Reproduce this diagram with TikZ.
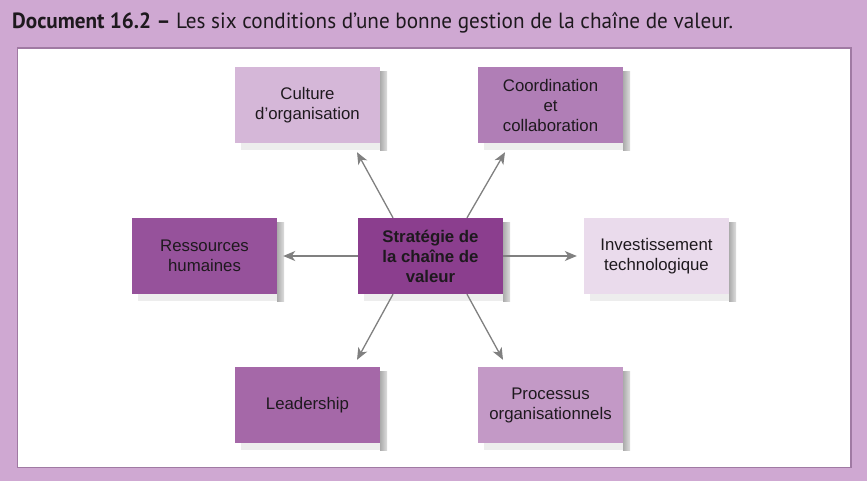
\documentclass[tikz,border=0pt]{standalone}
\usepackage{fontspec}
\setmainfont{Liberation Sans}
\newfontfamily\titlefont{PT Sans}
\usetikzlibrary{arrows.meta}
\definecolor{bgpurple}{RGB}{207,168,210}
\definecolor{panelborder}{RGB}{160,122,163}
\definecolor{cCult}{RGB}{213,183,216}
\definecolor{cCoord}{RGB}{176,126,182}
\definecolor{cRess}{RGB}{150,82,155}
\definecolor{cStrat}{RGB}{139,62,142}
\definecolor{cInv}{RGB}{234,219,236}
\definecolor{cLead}{RGB}{165,104,168}
\definecolor{cProc}{RGB}{195,153,198}
\definecolor{textdark}{RGB}{30,25,30}
\definecolor{arrowgray}{RGB}{128,128,128}
\tikzset{
  boxnode/.style={rectangle, minimum width=145pt, minimum height=76pt, inner sep=0pt,
    align=center, text=textdark, font=\fontsize{16.8}{20}\selectfont},
  arr/.style={draw=arrowgray, line width=1.3pt,
    -{Stealth[length=12pt,width=10pt,inset=3.5pt]}},
  shadowright/.style={left color=gray!65, right color=gray!25},
  shadowbottom/.style={fill=gray!14}
}
\newcommand{\boxshade}[1]{%
  \fill[shadowright] ([yshift=-5pt]#1.north east) rectangle ([shift={(7pt,-7pt)}]#1.south east);
  \fill[shadowbottom] ([xshift=6pt]#1.south west) rectangle ([yshift=-7pt]#1.south east);
}
\begin{document}
\begin{tikzpicture}[x=1pt,y=-1pt]
\useasboundingbox (0,0) rectangle (867,481);
\fill[bgpurple] (0,0) rectangle (867,481);
\draw[panelborder, line width=1.5pt, fill=white] (17.5,48) rectangle (851,467.5);
\node[anchor=base west, inner sep=0pt, text=textdark] (title) at (12,29)
  {\resizebox{721pt}{\height}{\titlefont\fontsize{22}{26}\selectfont\textbf{Document 16.2 –} Les six conditions d’une bonne gestion de la chaîne de valeur.}};

\node[boxnode, fill=cCult] (cult) at (307.5,105) {Culture\\d’organisation};
\node[boxnode, fill=cCoord] (coord) at (550.5,105) {Coordination\\et\\collaboration};
\node[boxnode, fill=cRess] (ress) at (204.5,256) {Ressources\\humaines};
\node[boxnode, fill=cStrat, font=\fontsize{16.8}{20}\selectfont\bfseries] (strat) at (430.5,256) {Stratégie de\\la chaîne de\\valeur};
\node[boxnode, fill=cInv] (inv) at (656.5,256) {Investissement\\technologique};
\node[boxnode, fill=cLead] (lead) at (307.5,405) {Leadership};
\node[boxnode, fill=cProc] (proc) at (550.5,405) {Processus\\organisationnels};

\boxshade{cult}
\boxshade{coord}
\boxshade{ress}
\boxshade{strat}
\boxshade{inv}
\boxshade{lead}
\boxshade{proc}

\draw[arr] ([xshift=-37.5pt]strat.north) -- ([shift={(49.5pt,-9pt)}]cult.south);
\draw[arr] ([xshift=36.5pt]strat.north) -- ([shift={(-45.5pt,-9pt)}]coord.south);
\draw[arr] (strat.west) -- ([xshift=6pt]ress.east);
\draw[arr] (strat.east) -- ([xshift=-7pt]inv.west);
\draw[arr] ([xshift=-37.5pt]strat.south) -- ([shift={(49.5pt,7pt)}]lead.north);
\draw[arr] ([xshift=36.5pt]strat.south) -- ([shift={(-47.5pt,7pt)}]proc.north);
\end{tikzpicture}
\end{document}
